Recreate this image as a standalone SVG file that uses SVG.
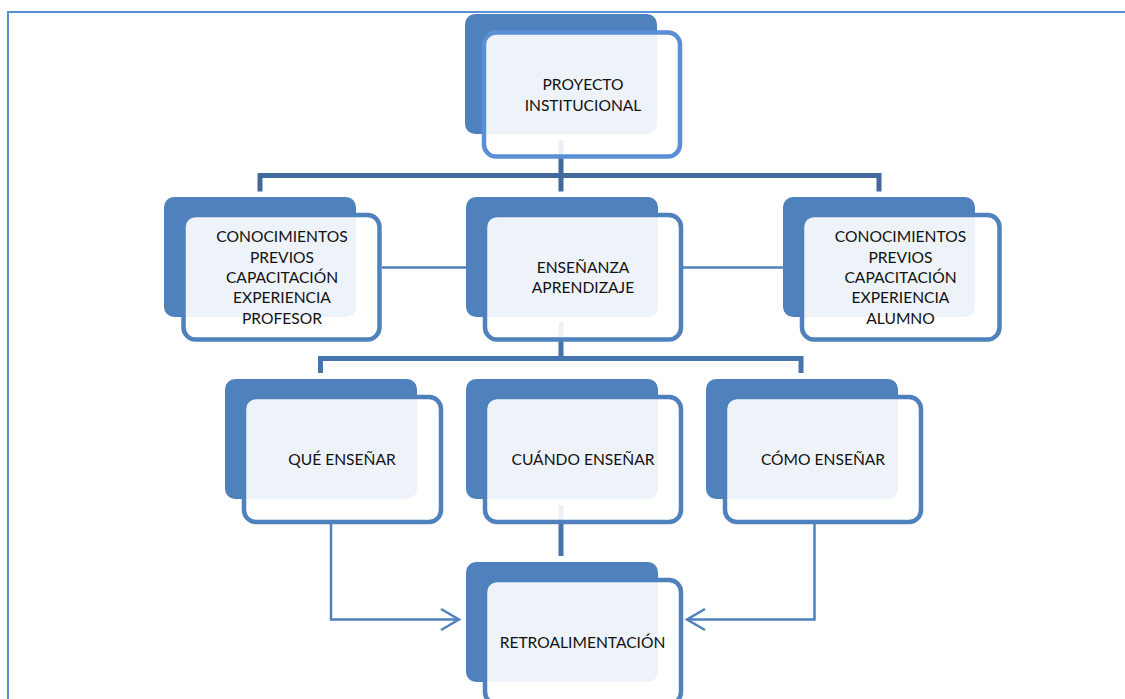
<svg xmlns="http://www.w3.org/2000/svg" width="1125" height="699" viewBox="0 0 1125 699">
  <style>
    .back { fill: #4F81BD; }
    .front { fill: #FFFFFF; fill-opacity: 0.9; stroke: #4F81BD; stroke-width: 4.5; }
    .front.light { stroke: #5A8FD6; }
    .label { font-family: Lato, "Liberation Sans", sans-serif; font-size: 15.6px; fill: #111111; text-anchor: middle; }
    .bar { fill: none; stroke-width: 5; stroke-linejoin: miter; stroke-linecap: butt; }
    .bar.dark { stroke: #41699C; }
    .bar.mid { stroke: #4675AE; }
    .thin { fill: none; stroke: #4F81BD; stroke-width: 2.5; }
    .frame { fill: none; stroke: #5A8ED6; stroke-width: 2; }
  </style>
  <defs>
    <marker id="chev" markerUnits="userSpaceOnUse" markerWidth="26" markerHeight="28" viewBox="-22 -14 26 28" refX="0" refY="0" orient="auto">
      <path d="M-18,-10.5 L0,0 L-18,10.5" fill="none" stroke="#4F81BD" stroke-width="2.5"/>
    </marker>
  </defs>

  <rect width="1125" height="699" fill="#FFFFFF"/>

  <!-- page frame -->
  <path class="frame" d="M8,699 V12 H1125"/>

  <!-- connectors -->
  <g id="connectors">
    <path class="bar dark" d="M561,140 V191.5"/>
    <path class="bar dark" d="M260,191.5 V175.5 H879 V191.5"/>
    <path class="thin" d="M382,267.5 H466"/>
    <path class="thin" d="M683,267.5 H783"/>
    <path class="bar mid" d="M561,322 V358.5"/>
    <path class="bar mid" d="M320.5,373 V358.5 H801 V373"/>
    <path class="bar mid" d="M561,505 V556"/>
    <path class="thin" d="M331,524 V619.5 H459" marker-end="url(#chev)"/>
    <path class="thin" d="M814.5,524 V619.5 H687" marker-end="url(#chev)"/>
  </g>

  <!-- nodes: dark backing card with a translucent card on top -->
  <g id="proyecto">
    <rect class="back" x="465" y="14" width="192" height="120" rx="10"/>
    <rect class="front light" x="484" y="32.5" width="196" height="124" rx="12"/>
    <text class="label" x="583" y="90">PROYECTO</text>
    <text class="label" x="583" y="110.7">INSTITUCIONAL</text>
  </g>

  <g id="profesor">
    <rect class="back" x="164" y="197" width="192" height="120" rx="10"/>
    <rect class="front" x="183.5" y="215" width="196" height="124.5" rx="12"/>
    <text class="label" x="282" y="242.3">CONOCIMIENTOS</text>
    <text class="label" x="282" y="262.5">PREVIOS</text>
    <text class="label" x="282" y="283">CAPACITACIÓN</text>
    <text class="label" x="282" y="303.3">EXPERIENCIA</text>
    <text class="label" x="282" y="323.7">PROFESOR</text>
  </g>

  <g id="ensenanza">
    <rect class="back" x="466" y="197" width="192" height="120" rx="10"/>
    <rect class="front" x="485" y="215" width="196" height="124.5" rx="12"/>
    <text class="label" x="583" y="272.7">ENSEÑANZA</text>
    <text class="label" x="583" y="292.7">APRENDIZAJE</text>
  </g>

  <g id="alumno">
    <rect class="back" x="783" y="197" width="192" height="120" rx="10"/>
    <rect class="front" x="802" y="215" width="197.5" height="124.5" rx="12"/>
    <text class="label" x="900.5" y="242.3">CONOCIMIENTOS</text>
    <text class="label" x="900.5" y="262.5">PREVIOS</text>
    <text class="label" x="900.5" y="283">CAPACITACIÓN</text>
    <text class="label" x="900.5" y="303.3">EXPERIENCIA</text>
    <text class="label" x="900.5" y="324">ALUMNO</text>
  </g>

  <g id="que">
    <rect class="back" x="225" y="379" width="192" height="120" rx="10"/>
    <rect class="front" x="244" y="397" width="197" height="125" rx="12"/>
    <text class="label" x="342" y="465">QUÉ ENSEÑAR</text>
  </g>

  <g id="cuando">
    <rect class="back" x="466" y="379" width="192" height="120" rx="10"/>
    <rect class="front" x="485" y="397" width="196" height="125" rx="12"/>
    <text class="label" x="583" y="465">CUÁNDO ENSEÑAR</text>
  </g>

  <g id="como">
    <rect class="back" x="706" y="379" width="192" height="120" rx="10"/>
    <rect class="front" x="725" y="397" width="196" height="125" rx="12"/>
    <text class="label" x="823" y="465">CÓMO ENSEÑAR</text>
  </g>

  <g id="retro">
    <rect class="back" x="466" y="562" width="192" height="120" rx="10"/>
    <rect class="front" x="485" y="580" width="196" height="124" rx="12"/>
    <text class="label" x="582.5" y="648.3">RETROALIMENTACIÓN</text>
  </g>
</svg>
